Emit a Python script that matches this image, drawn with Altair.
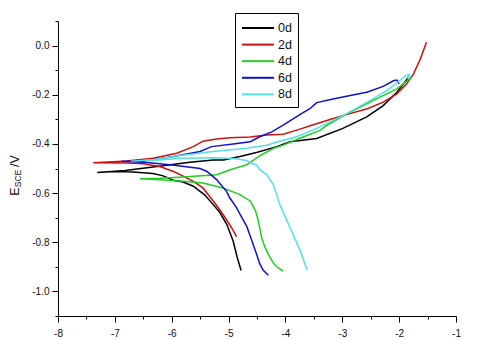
import altair as alt
import pandas as pd

# ---- data (log current vs potential) ----
series_names = ["0d", "2d", "4d", "6d", "8d"]
series_colors = ["#000000", "#cc1111", "#22cc22", "#1111cc", "#55e0e0"]

x_0d = [-4.78, -4.85, -4.92, -5.03, -5.15, -5.27, -5.42, -5.62, -5.80, -5.97, -6.15, -6.33, -6.68, -7.00, -7.31,
        -6.82, -6.26, -5.68, -5.27, -5.09, -4.80, -4.51, -4.15, -3.92, -3.45, -2.99, -2.57, -2.28, -2.04, -1.90, -1.83]
y_0d = [-0.915, -0.860, -0.795, -0.728, -0.680, -0.647, -0.607, -0.572, -0.555, -0.548, -0.530, -0.520, -0.514, -0.512, -0.516,
        -0.508, -0.492, -0.475, -0.465, -0.465, -0.451, -0.435, -0.411, -0.391, -0.378, -0.337, -0.290, -0.244, -0.190, -0.149, -0.125]

x_2d = [-4.86, -4.95, -5.10, -5.27, -5.45, -5.62, -5.85, -5.97, -6.21, -6.50, -6.79, -7.38,
        -6.79, -6.33, -5.91, -5.62, -5.45, -5.21, -4.98, -4.62, -4.33, -4.04, -3.80, -3.51, -3.20, -2.98, -2.56, -2.28,
        -2.04, -1.87, -1.75, -1.63, -1.52]
y_2d = [-0.777, -0.740, -0.686, -0.632, -0.579, -0.552, -0.525, -0.512, -0.492, -0.481, -0.478, -0.477,
        -0.469, -0.458, -0.438, -0.411, -0.389, -0.380, -0.375, -0.372, -0.364, -0.361, -0.344, -0.322, -0.300, -0.284,
        -0.257, -0.230, -0.197, -0.156, -0.116, -0.056, 0.014]

x_4d = [-4.04, -4.15, -4.21, -4.30, -4.36, -4.42, -4.45, -4.49, -4.53, -4.62, -4.80, -5.10, -5.45, -5.80, -6.20, -6.56,
        -6.20, -5.80, -5.21, -4.97, -4.68, -4.45, -4.21, -4.04, -3.69, -3.39, -3.27, -2.86, -2.40, -2.04, -1.78]
y_4d = [-0.917, -0.900, -0.885, -0.850, -0.820, -0.780, -0.745, -0.700, -0.670, -0.632, -0.606, -0.579, -0.559, -0.552, -0.546, -0.542,
        -0.540, -0.535, -0.525, -0.505, -0.485, -0.448, -0.418, -0.405, -0.372, -0.345, -0.324, -0.270, -0.217, -0.176, -0.129]

x_6d = [-4.30, -4.39, -4.45, -4.51, -4.57, -4.62, -4.68, -4.80, -4.86, -4.98, -5.03, -5.21, -5.38, -5.50, -6.03, -6.44, -6.88,
        -6.50, -5.97, -5.50, -5.30, -4.92, -4.62, -4.45, -4.24, -4.04, -3.74, -3.57, -3.45, -3.16, -2.86, -2.57, -2.28,
        -2.10, -2.04, -2.00]
y_6d = [-0.934, -0.914, -0.888, -0.847, -0.807, -0.775, -0.735, -0.686, -0.659, -0.619, -0.595, -0.545, -0.512, -0.500, -0.485, -0.476, -0.471,
        -0.470, -0.451, -0.431, -0.411, -0.400, -0.391, -0.371, -0.351, -0.324, -0.280, -0.257, -0.232, -0.217, -0.203, -0.190, -0.166,
        -0.143, -0.140, -0.156]

x_8d = [-3.62, -3.74, -3.92, -4.10, -4.21, -4.33, -4.45, -4.51, -4.62, -4.68, -4.92, -5.27, -5.85, -6.20, -6.72,
        -6.30, -5.85, -5.27, -4.68, -4.33, -4.10, -3.80, -3.45, -2.98, -2.56, -2.22, -1.99, -1.87, -1.82, -1.85]
y_8d = [-0.913, -0.834, -0.740, -0.646, -0.566, -0.525, -0.505, -0.485, -0.478, -0.467, -0.459, -0.456, -0.458, -0.465, -0.470,
        -0.463, -0.447, -0.431, -0.418, -0.405, -0.389, -0.371, -0.337, -0.284, -0.230, -0.183, -0.143, -0.120, -0.118, -0.135]

x_ticks = [-8, -7.5, -7, -6.5, -6, -5.5, -5, -4.5, -4, -3.5, -3, -2.5, -2, -1.5, -1]
y_ticks = [-1.1, -1.0, -0.9, -0.8, -0.7, -0.6, -0.5, -0.4, -0.3, -0.2, -0.1, 0.0, 0.1]

xs = [x_0d, x_2d, x_4d, x_6d, x_8d]
ys = [y_0d, y_2d, y_4d, y_6d, y_8d]
rows = []
for name, xv, yv in zip(series_names, xs, ys):
    for i, (a, b) in enumerate(zip(xv, yv)):
        rows.append({"x": a, "y": b, "series": name, "order": i})
df = pd.DataFrame(rows)

FONT = "Liberation Sans"

lines = alt.Chart(df).mark_line(strokeWidth=1.5).encode(
    x=alt.X("x:Q", scale=alt.Scale(domain=[-8, -1], nice=False, zero=False),
            axis=alt.Axis(values=x_ticks, title=None, grid=False,
                          labelExpr="datum.value % 1 === 0 ? ((datum.value < 0 ? '-' : '') + format(abs(datum.value), 'd')) : ''",
                          tickSize={"condition": {"test": "datum.value % 1 === 0", "value": 6}, "value": 3},
                          labelPadding=6, labelFontSize=10, labelFont=FONT, labelColor="#111111",
                          domainColor="#000000", tickColor="#000000", labelFlush=False)),
    y=alt.Y("y:Q", scale=alt.Scale(domain=[-1.1, 0.1], nice=False, zero=False),
            axis=alt.Axis(values=y_ticks, title=None, grid=False,
                          labelExpr="abs(round(datum.value * 10)) % 2 === 0 ? ((datum.value < -0.001 ? '-' : '') + format(abs(datum.value), '.1f')) : ''",
                          tickSize={"condition": {"test": "abs(round(datum.value * 10)) % 2 === 0", "value": 6}, "value": 3},
                          labelPadding=3, labelFontSize=10, labelFont=FONT, labelColor="#111111",
                          domainColor="#000000", tickColor="#000000", labelFlush=False)),
    color=alt.Color("series:N", scale=alt.Scale(domain=series_names, range=series_colors),
                    legend=alt.Legend(orient="none", legendX=177, legendY=-8, title=None,
                                      symbolType="M-1,0H3", symbolSize=256, symbolStrokeWidth=2,
                                      labelFontSize=12.5, labelFont=FONT, labelColor="#111111",
                                      strokeColor="#000000", fillColor="#ffffff", padding=6,
                                      rowPadding=0.6, labelOffset=19)),
    order=alt.Order("order:Q"),
)

title_E = alt.Chart(pd.DataFrame({"t": ["E"]})).mark_text(
    angle=270, fontSize=12.5, font=FONT, color="#111111", align="center", baseline="middle"
).encode(x=alt.value(-43), y=alt.value(170.5), text="t:N")
title_sce = alt.Chart(pd.DataFrame({"t": ["SCE"]})).mark_text(
    angle=270, fontSize=8.5, font=FONT, color="#111111", align="center", baseline="middle"
).encode(x=alt.value(-40), y=alt.value(157.5), text="t:N")
title_v = alt.Chart(pd.DataFrame({"t": ["/V"]})).mark_text(
    angle=270, fontSize=12.5, font=FONT, color="#111111", align="center", baseline="middle"
).encode(x=alt.value(-43), y=alt.value(140), text="t:N")

chart = alt.layer(lines, title_E, title_sce, title_v).properties(
    width=398, height=295,
    autosize=alt.AutoSizeParams(type="none"),
    padding={"left": 50, "top": 13, "right": 36, "bottom": 22},
    background="#ffffff",
).configure_view(stroke=None)

chart.save("out.html", embed_options={"renderer": "svg", "actions": False})
